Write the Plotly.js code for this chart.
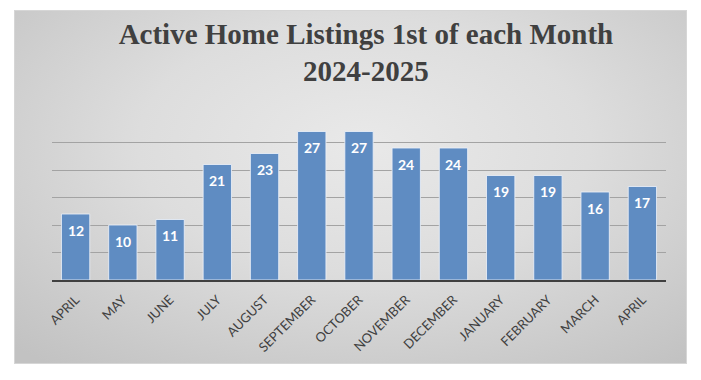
<!DOCTYPE html>
<html>
<head>
<meta charset="utf-8">
<script src="https://cdn.plot.ly/plotly-3.0.1.min.js"></script>
<style>
  html, body { margin: 0; padding: 0; background: #ffffff; width: 701px; height: 380px; overflow: hidden; }
  #frame {
    position: absolute; left: 14px; top: 10px; width: 671px; height: 352px;
    border: 1px solid #d6d6d6;
    background: radial-gradient(ellipse 75% 80% at 52% 38%, #e9e9e9 0%, #dddddd 45%, #c9c9c9 85%, #c2c2c2 100%);
  }
  #chart { position: absolute; left: 0; top: 0; width: 701px; height: 380px; }
</style>
</head>
<body>
<div id="frame"></div>
<div id="chart"></div>
<script>
const months = ["APRIL", "MAY", "JUNE", "JULY", "AUGUST", "SEPTEMBER", "OCTOBER",
                "NOVEMBER", "DECEMBER", "JANUARY", "FEBRUARY", "MARCH", "APRIL"];
const listings = [12, 10, 11, 21, 23, 27, 27, 24, 24, 19, 19, 16, 17];
const gridValues = [5, 10, 15, 20, 25];

const positions = months.map((m, i) => i);

const trace = {
  type: "bar",
  x: positions,
  y: listings,
  marker: { color: "#5f8cc2", line: { color: "rgba(235,240,248,0.85)", width: 1 } },
  hoverinfo: "skip"
};

const labels = listings.map((v, i) => ({
  x: positions[i], y: v, xref: "x", yref: "y",
  text: String(v), showarrow: false, yshift: -16, yanchor: "middle",
  font: { family: "Lato, 'Open Sans', sans-serif", size: 14, color: "#ffffff", weight: "bold" }
}));

const layout = {
  width: 701, height: 380,
  paper_bgcolor: "rgba(0,0,0,0)", plot_bgcolor: "rgba(0,0,0,0)",
  margin: { l: 52, r: 35, t: 115, b: 100 },
  title: {
    text: "<b>Active Home Listings 1st of each Month<br>2024-2025</b>",
    font: { family: "'Liberation Serif', 'Times New Roman', serif", size: 29, color: "#404040" },
    x: 0.522, xanchor: "center", xref: "container",
    y: 0.885, yanchor: "top", yref: "container"
  },
  bargap: 0.4,
  showlegend: false,
  xaxis: {
    tickmode: "array", tickvals: positions, ticktext: months,
    tickangle: -45, range: [-0.5, months.length - 0.5],
    tickfont: { family: "Lato, 'Open Sans', sans-serif", size: 13, color: "#404040" },
    ticklabelstandoff: 5,
    showline: true, linecolor: "#404040", linewidth: 2,
    ticks: "", showgrid: false, zeroline: false, fixedrange: true
  },
  yaxis: {
    range: [0, 30], tickmode: "array", tickvals: gridValues,
    showticklabels: false, ticks: "",
    showgrid: true, gridcolor: "#a3a3a3", gridwidth: 1,
    zeroline: false, showline: false, fixedrange: true
  },
  annotations: labels
};

Plotly.newPlot("chart", [trace], layout, { displayModeBar: false, staticPlot: true });
</script>
</body>
</html>
